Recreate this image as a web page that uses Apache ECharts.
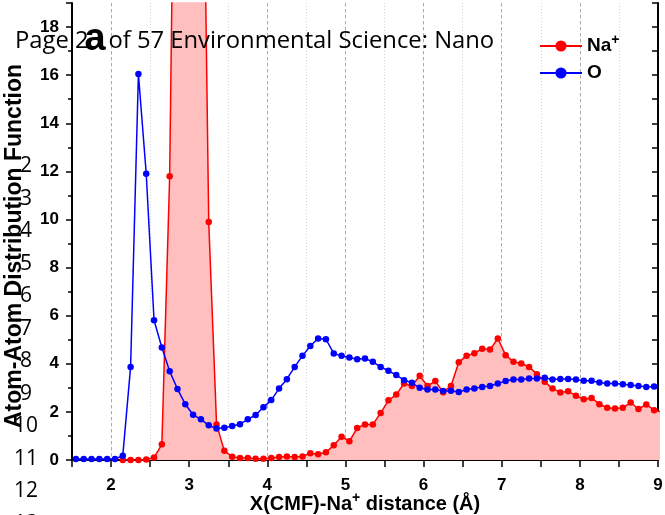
<!DOCTYPE html>
<html>
<head>
<meta charset="utf-8">
<script src="https://cdn.jsdelivr.net/npm/echarts@6/dist/echarts.min.js"></script>
<style>
html,body{margin:0;padding:0;background:#fff;}
#chart{width:665px;height:515px;}
</style>
</head>
<body>
<div id="chart"></div>
<script>
// ---- data ----
const xNa = [2.15,2.25,2.35,2.45,2.55,2.65,2.75,2.85,2.95,3.05,3.15,3.25,3.35,3.45,3.55,3.65,3.75,3.85,3.95,4.05,
  4.15,4.25,4.35,4.45,4.55,4.65,4.75,4.85,4.95,5.05,5.15,5.25,5.35,5.45,5.55,5.65,5.75,5.85,5.95,6.05,
  6.15,6.25,6.35,6.45,6.55,6.65,6.75,6.85,6.95,7.05,7.15,7.25,7.35,7.45,7.55,7.65,7.75,7.85,7.95,8.05,
  8.15,8.25,8.35,8.45,8.55,8.65,8.75,8.85,8.95,9.05];
const naValues = [0,0,0,0.02,0.1,0.65,11.8,38,45,42,34,9.9,1.48,0.38,0.14,0.08,0.08,0.05,0.05,0.08,
  0.12,0.15,0.12,0.15,0.28,0.24,0.32,0.61,0.97,0.78,1.33,1.48,1.48,1.95,2.48,2.72,3.18,3.08,3.5,3.08,
  3.28,2.82,3.08,4.06,4.33,4.44,4.63,4.59,5.05,4.36,4.08,4.01,3.87,3.57,3.25,2.97,2.81,2.86,2.67,2.53,
  2.58,2.32,2.17,2.14,2.17,2.39,2.12,2.31,2.07,2.0];
const xO = [1.55,1.65,1.75,1.85,1.95,2.05,2.15,2.25,2.35,2.45,2.55,2.65,2.75,2.85,2.95,3.05,3.15,3.25,3.35,3.45,
  3.55,3.65,3.75,3.85,3.95,4.05,4.15,4.25,4.35,4.45,4.55,4.65,4.75,4.85,4.95,5.05,5.15,5.25,5.35,5.45,
  5.55,5.65,5.75,5.85,5.95,6.05,6.15,6.25,6.35,6.45,6.55,6.65,6.75,6.85,6.95,7.05,7.15,7.25,7.35,7.45,
  7.55,7.65,7.75,7.85,7.95,8.05,8.15,8.25,8.35,8.45,8.55,8.65,8.75,8.85,8.95];
const oValues = [0.04,0.04,0.04,0.04,0.04,0.04,0.18,3.87,16.05,11.9,5.81,4.68,3.69,2.95,2.32,1.88,1.69,1.44,1.31,1.34,
  1.41,1.49,1.69,1.87,2.19,2.49,2.97,3.36,3.87,4.33,4.74,5.05,5.02,4.43,4.33,4.26,4.19,4.22,4.08,3.87,
  3.71,3.53,3.32,3.21,3.0,2.93,2.93,2.87,2.88,2.83,2.93,2.97,3.04,3.08,3.18,3.28,3.35,3.35,3.39,3.39,
  3.42,3.35,3.37,3.37,3.35,3.29,3.29,3.22,3.18,3.18,3.15,3.12,3.08,3.04,3.06];
const seriesNames = ['Na+','O'];
const xTitleParts = ['X(CMF)-Na', '+', ' distance (Å)'];
const yTitle = 'Atom-Atom Distribution Function';
const headerText = 'Page 23 of 57 Environmental Science: Nano';
const panelLabel = 'a';
const lineNumbers = ['2','3','4','5','6','7','8','9','10','11','12','13'];

// ---- chart ----
const chart = echarts.init(document.getElementById('chart'), null, {renderer:'canvas'});
const toPairs = (xs, ys) => xs.map((x,i) => [x, ys[i]]);
const lblFont = 'Liberation Sans, Arial, sans-serif';

const lineNumGraphics = lineNumbers.map((t, i) => ({
  type:'text', z: 1,
  x: 26, y: 166.5 + i * 32.5,
  style:{ text: t, font: '21px "Open Sans"', fill:'#000', align:'center', verticalAlign:'middle' }
}));

const option = {
  animation:false,
  backgroundColor:'#fff',
  grid:{ left:72, right:7, top:3, bottom:55, containLabel:false, outerBoundsMode:'none' },
  legend:{
    left: 534, top: 28, orient:'vertical', itemWidth:42, itemHeight:14, itemGap:8,
    data: seriesNames,
    formatter: n => n === 'Na+' ? '{b|Na}{s|+}' : '{b|O}',
    textStyle:{ rich:{
      b:{ fontFamily: lblFont, fontWeight:'bold', fontSize:19, color:'#000' },
      s:{ fontFamily: lblFont, fontWeight:'bold', fontSize:14, color:'#000', padding:[0,0,12,0] }
    }}
  },
  xAxis:[
    { type:'value', min:1.5, max:9, interval:0.5, position:'bottom',
      axisLine:{ show:true, lineStyle:{ color:'#000', width:2 } },
      axisTick:{ show:true, inside:false, length:3, lineStyle:{ color:'#000', width:1.5 } },
      axisLabel:{ show:false },
      splitLine:{ show:true, lineStyle:{ color:'#d6d6d6', type:[1,2], width:1 } } },
    { type:'value', min:1.5, max:9, splitNumber:8, position:'bottom',
      axisLine:{ show:false },
      axisTick:{ show:true, inside:false, length:6, lineStyle:{ color:'#000', width:1.5 } },
      axisLabel:{ show:true, margin:17, fontFamily: lblFont, fontWeight:'bold', fontSize:17, color:'#000',
        formatter: v => Number.isInteger(v) ? String(v) : '' },
      splitLine:{ show:true, lineStyle:{ color:'#ababab', type:[3,3], width:1 } },
      name: '{t|' + xTitleParts[0] + '}{s|' + xTitleParts[1] + '}{t|' + xTitleParts[2] + '}',
      nameLocation:'middle', nameGap:31, nameMoveOverlap:false,
      nameTextStyle:{ rich:{
        t:{ fontFamily: lblFont, fontWeight:'bold', fontSize:20, color:'#000' },
        s:{ fontFamily: lblFont, fontWeight:'bold', fontSize:14, color:'#000', padding:[0,0,12,0] } } }
    },
    { type:'value', min:1.5, max:9, interval:0.5, position:'top',
      axisLine:{ show:true, lineStyle:{ color:'#000', width:2 } },
      axisTick:{ show:true, inside:true, length:7, lineStyle:{ color:'#000', width:1.5 } },
      axisLabel:{ show:false }, splitLine:{ show:false } }
  ],
  yAxis:[
    { type:'value', min:0, max:19, interval:1, position:'left',
      axisLine:{ show:true, lineStyle:{ color:'#000', width:2 } },
      axisTick:{ show:true, inside:false, length:4, lineStyle:{ color:'#000', width:1.5 } },
      axisLabel:{ show:false }, splitLine:{ show:false },
      name: yTitle, nameLocation:'middle', nameGap:46, nameRotate:90, nameMoveOverlap:false,
      nameTextStyle:{ fontFamily: lblFont, fontWeight:'bold', fontSize:23, color:'#000', padding:[0,29,0,0] } },
    { type:'value', min:0, max:19, interval:2, position:'left',
      axisLine:{ show:false },
      axisTick:{ show:true, inside:false, length:6, lineStyle:{ color:'#000', width:1.5 } },
      axisLabel:{ show:true, margin:13, fontFamily: lblFont, fontWeight:'bold', fontSize:17, color:'#000',
        formatter: v => (v % 2 === 0) ? String(v) : '' },
      splitLine:{ show:false } },
    { type:'value', min:0, max:19, interval:1, position:'right',
      axisLine:{ show:true, lineStyle:{ color:'#000', width:2 } },
      axisTick:{ show:true, inside:true, length:6, lineStyle:{ color:'#000', width:1.5 } },
      axisLabel:{ show:false }, splitLine:{ show:false } }
  ],
  series:[
    { name: seriesNames[0], type:'line', xAxisIndex:0, yAxisIndex:0,
      data: toPairs(xNa, naValues),
      symbol:'circle', symbolSize:6.5, showSymbol:true,
      itemStyle:{ color:'#ff0000' },
      lineStyle:{ color:'#ff0000', width:1.5 },
      areaStyle:{ color:'#ffbfbf', opacity:1, origin:'start' },
      clip:true, z:2 },
    { name: seriesNames[1], type:'line', xAxisIndex:0, yAxisIndex:0,
      data: toPairs(xO, oValues),
      symbol:'circle', symbolSize:6.5, showSymbol:true,
      itemStyle:{ color:'#0000ff' },
      lineStyle:{ color:'#0000ff', width:1.5 },
      clip:true, z:3 }
  ],
  graphic:[
    ...lineNumGraphics,
    { type:'text', z:10, x:15, y:41,
      style:{ text: headerText, font:'23.8px "Open Sans"', fill:'#000', align:'left', verticalAlign:'middle' } },
    { type:'text', z:11, x:95, y:40,
      style:{ text: panelLabel, font:'bold 38px "Liberation Sans"', fill:'#000', align:'center', verticalAlign:'middle' } }
  ]
};
chart.setOption(option);
</script>
</body>
</html>
